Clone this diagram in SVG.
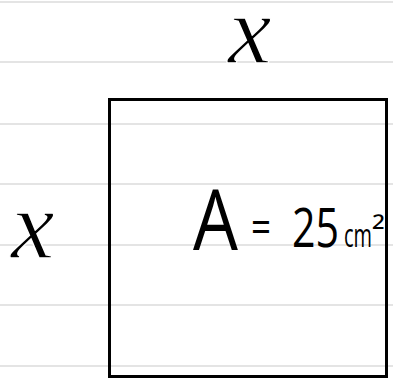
<svg xmlns="http://www.w3.org/2000/svg" width="393" height="379" viewBox="0 0 393 379">
<style>
.rule{stroke:#e4e4e4;stroke-width:2;fill:none}
.box{fill:none;stroke:#000;stroke-width:3}
.hand{font-family:"Open Sans","Liberation Sans",Arial,sans-serif;font-weight:400;fill:#000}
.var{font-family:"Liberation Serif","Times New Roman",serif;font-style:italic;fill:#000;stroke:#fff;stroke-width:1.4}
</style>
<rect width="393" height="379" fill="#fff"/>
<g id="ruled-lines">
<line class="rule" x1="0" y1="2" x2="393" y2="2"/>
<line class="rule" x1="0" y1="62" x2="393" y2="62"/>
<line class="rule" x1="0" y1="124" x2="393" y2="124"/>
<line class="rule" x1="0" y1="184" x2="393" y2="184"/>
<line class="rule" x1="0" y1="245" x2="393" y2="245"/>
<line class="rule" x1="0" y1="305" x2="393" y2="305"/>
<line class="rule" x1="0" y1="366" x2="393" y2="366"/>
</g>
<g id="square">
<rect class="box" x="109.5" y="99.5" width="277" height="277"/>
</g>
<g id="label-top">
<text class="var" x="228" y="63" font-size="98">x</text>
</g>
<g id="label-left">
<text class="var" x="11" y="258" font-size="98">x</text>
</g>
<g id="area-label">
<text class="hand" y="250"><tspan x="193" font-size="84" textLength="45" lengthAdjust="spacingAndGlyphs">A</tspan><tspan x="251" y="243" font-size="44" textLength="20" lengthAdjust="spacingAndGlyphs">=</tspan><tspan x="292" y="247" font-size="55" textLength="47" lengthAdjust="spacingAndGlyphs">25</tspan><tspan x="344" font-size="32" textLength="28" lengthAdjust="spacingAndGlyphs">cm</tspan><tspan x="372" y="243" font-size="34" textLength="13" lengthAdjust="spacingAndGlyphs">²</tspan></text>
</g>
</svg>
